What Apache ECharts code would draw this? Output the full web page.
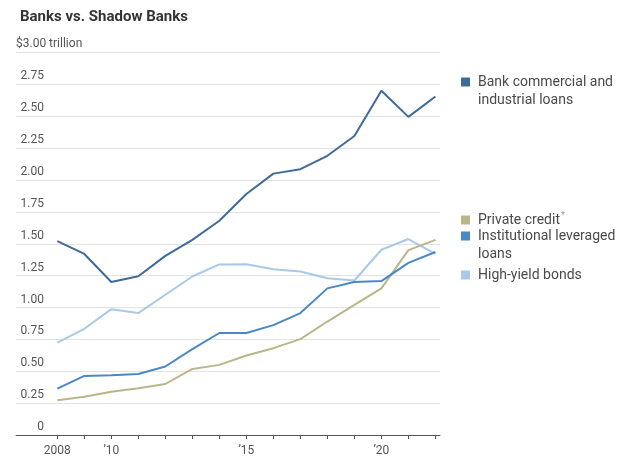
<!DOCTYPE html>
<html>
<head>
<meta charset="utf-8">
<script src="https://cdn.jsdelivr.net/npm/echarts@6/dist/echarts.min.js"></script>
<style>html,body{margin:0;padding:0;background:#fff}#c{width:630px;height:465px}</style>
</head>
<body>
<div id="c"></div>
<script>
const years = [2008,2009,2010,2011,2012,2013,2014,2015,2016,2017,2018,2019,2020,2021,2022];
const bankLoans = [1.52,1.42,1.20,1.245,1.405,1.53,1.68,1.89,2.05,2.085,2.19,2.345,2.70,2.495,2.655];
const privateCredit = [0.272,0.30,0.34,0.367,0.40,0.518,0.55,0.623,0.681,0.752,0.89,1.02,1.15,1.45,1.53];
const leveragedLoans = [0.364,0.463,0.469,0.479,0.537,0.673,0.80,0.80,0.862,0.956,1.15,1.20,1.207,1.35,1.435];
const highYield = [0.725,0.833,0.987,0.956,1.10,1.243,1.338,1.34,1.30,1.283,1.23,1.212,1.453,1.537,1.42];
const yTicks = [0,0.25,0.5,0.75,1,1.25,1.5,1.75,2,2.25,2.5,2.75,3];
const xLabelYears = [2008,2010,2015,2020];
const seriesNames = ['Bank commercial and industrial loans','Private credit','Institutional leveraged loans','High-yield bonds'];
const legendLabels = {
  'Bank commercial and industrial loans':'Bank commercial and\nindustrial loans',
  'Private credit':'Private credit{s|*}',
  'Institutional leveraged loans':'Institutional leveraged\nloans',
  'High-yield bonds':'High-yield bonds'
};
const colors = ['#3f6b98','#bab68a','#4a88c6','#a9c9e8'];
const FONT = 'Roboto, "Noto Sans", sans-serif';

const chart = echarts.init(document.getElementById('c'), null, {renderer:'canvas'});
const pair = arr => years.map((y,i)=>[y, arr[i]]);
const dataSets = [bankLoans, privateCredit, leveragedLoans, highYield];

const square = 'path://M0,0L9,0L9,9L0,9Z';
const squareTall = 'path://M0,0L9,0L9,9L0,9Z M0,27L9,27';

function legendBase(extra){
  return Object.assign({
    orient:'vertical', left:456, itemWidth:9, itemHeight:9, itemGap:0,
    selectedMode:false,
    itemStyle:{borderWidth:0},
    formatter: n => legendLabels[n],
    textStyle:{fontFamily:FONT, fontSize:14, color:'#4a4a4a', lineHeight:18, padding:[0,0,0,3],
      rich:{s:{fontSize:9, color:'#999', verticalAlign:'top', padding:[0,0,8,1], lineHeight:18}}}
  }, extra);
}

chart.setOption({
  animation:false,
  color: colors,
  title:{text:'Banks vs. Shadow Banks', left:15, top:5,
    textStyle:{fontFamily:FONT, fontSize:15, fontWeight:'bold', color:'#333'}},
  legend:[
    legendBase({top:68, itemHeight:27, data:[{name:seriesNames[0], icon:squareTall}]}),
    legendBase({top:206, itemHeight:9, data:[{name:seriesNames[1], icon:square}]}),
    legendBase({top:222, itemHeight:27, data:[{name:seriesNames[2], icon:squareTall}]}),
    legendBase({top:261, itemHeight:9, data:[{name:seriesNames[3], icon:square}]})
  ],
  grid:{left:16, right:190, top:52.5, bottom:30, containLabel:false},
  xAxis:{
    type:'value', min:2006.47, max:2022.17,
    axisLine:{show:true, lineStyle:{color:'#555', width:1}},
    axisTick:{show:true, customValues:years, length:4, lineStyle:{color:'#555'}},
    axisLabel:{customValues:xLabelYears, margin:10, color:'#555', fontFamily:FONT, fontSize:12,
      formatter: v => v===2008 ? '2008' : '\u2019' + String(v).slice(2)},
    splitLine:{show:false}
  },
  yAxis:{
    type:'value', min:0, max:3, interval:0.25,
    name:'$3.00 trillion', nameLocation:'end', nameGap:3,
    nameTextStyle:{fontFamily:FONT, fontSize:12, color:'#555', align:'left', verticalAlign:'bottom', padding:[0,0,0,0]},
    axisLine:{show:false}, axisTick:{show:false},
    axisLabel:{inside:true, margin:28, align:'right', verticalAlign:'bottom', padding:[0,0,2,0],
      color:'#555', fontFamily:FONT, fontSize:12,
      formatter: v => v===3 ? '' : (v===0 ? '0' : v.toFixed(2))},
    splitLine:{show:true, lineStyle:{color:'#e3e3e3', width:1}}
  },
  series: seriesNames.map((n,i)=>({
    name:n, type:'line', data:pair(dataSets[i]), showSymbol:false, symbol:'none',
    lineStyle:{width:2, color:colors[i]}, itemStyle:{color:colors[i]},
    z: i===3 ? 1 : 2
  }))
});
</script>
</body>
</html>
